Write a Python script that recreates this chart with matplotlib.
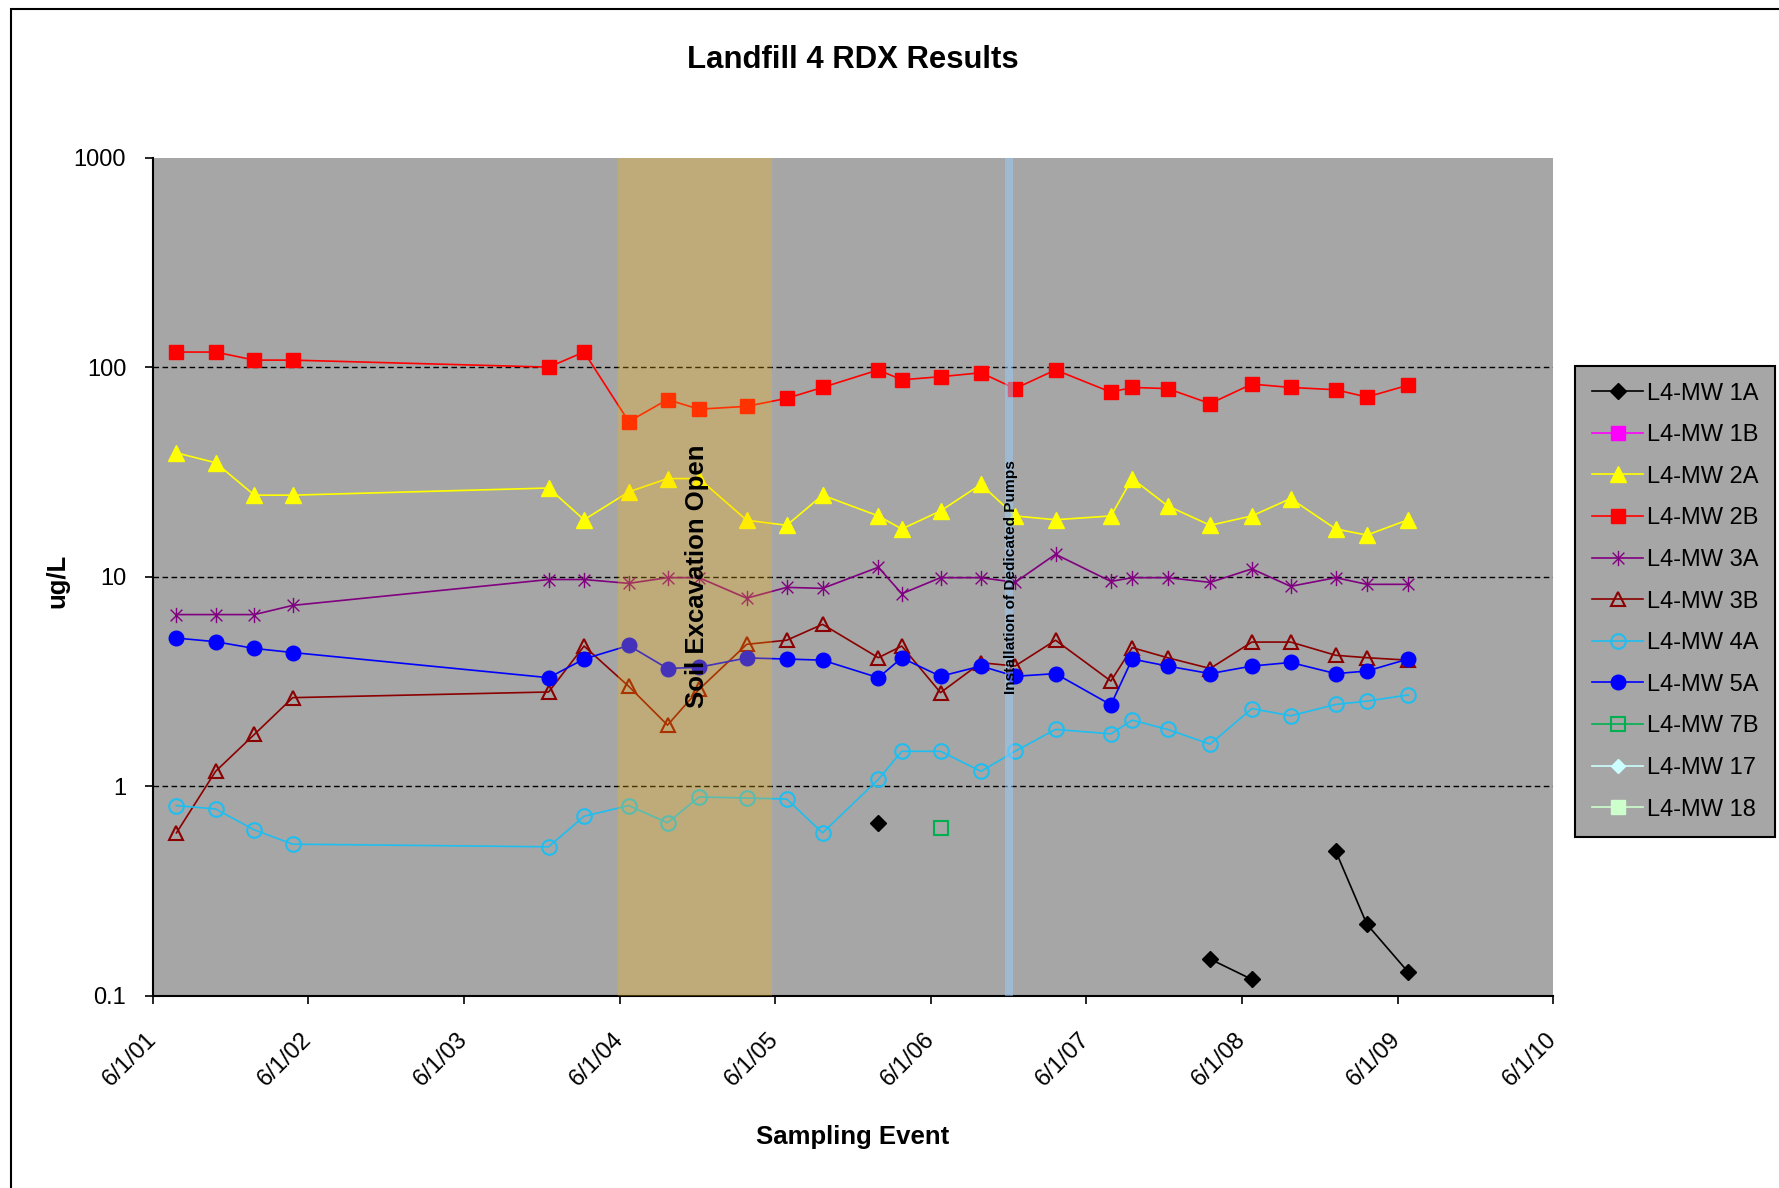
import numpy as np
import pandas as pd
import matplotlib
matplotlib.use("Agg")
import matplotlib.pyplot as plt
import matplotlib.dates as mdates
from matplotlib.path import Path
from matplotlib.patches import Rectangle
from matplotlib.ticker import FixedLocator, FuncFormatter, NullLocator

plt.rcParams['font.family'] = ['Liberation Sans', 'DejaVu Sans']

# sampling events
dates = ['2001-07-26', '2001-10-26', '2002-01-25', '2002-04-25', '2003-12-17',
         '2004-03-09', '2004-06-22', '2004-09-21', '2004-12-04', '2005-03-26',
         '2005-06-28', '2005-09-20', '2006-01-29', '2006-03-25', '2006-06-24',
         '2006-09-27', '2006-12-16', '2007-03-21', '2007-07-29', '2007-09-17',
         '2007-12-09', '2008-03-18', '2008-06-24', '2008-09-23', '2009-01-07',
         '2009-03-21', '2009-06-26']

# RDX results, ug/L (None = not detected / not sampled)
mw1a = [None, None, None, None, None, None, None, None, None, None, None, None, 0.67, None,
        None, None, None, None, None, None, None, 0.15, 0.12, None, 0.49, 0.22, 0.13]
mw1b = [None] * 27
mw2a = [39, 35, 24.5, 24.5, 26.5, 18.7, 25.4, 29.4, 29.4, 18.6, 17.6, 24.5, 19.5, 16.9,
        20.6, 27.6, 19.5, 18.7, 19.5, 29.4, 21.8, 17.6, 19.5, 23.6, 16.9, 15.8, 18.7]
mw2b = [118, 118, 108, 108, 100, 118, 55, 70, 63, 65, 71, 80, 97, 87,
        90, 94, 79, 97, 76, 80, 79, 67, 83, 80, 78, 72, 82]
mw3a = [6.6, 6.6, 6.6, 7.3, 9.7, 9.7, 9.3, 9.9, 9.9, 7.9, 8.9, 8.8, 11.1, 8.3,
        9.9, 9.9, 9.4, 12.8, 9.5, 9.9, 9.9, 9.4, 10.9, 9.0, 9.9, 9.2, 9.2]
mw3b = [0.6, 1.18, 1.77, 2.65, 2.82, 4.67, 3.0, 1.96, 2.9, 4.76, 4.98, 5.93, 4.11, 4.67,
        2.8, 3.89, 3.75, 4.98, 3.18, 4.59, 4.11, 3.65, 4.88, 4.88, 4.22, 4.11, 4.0]
mw4a = [0.81, 0.78, 0.62, 0.53, 0.515, 0.72, 0.81, 0.67, 0.89, 0.88, 0.87, 0.60, 1.08, 1.47,
        1.47, 1.18, 1.47, 1.87, 1.78, 2.07, 1.87, 1.59, 2.35, 2.17, 2.46, 2.55, 2.73]
mw5a = [5.1, 4.9, 4.55, 4.35, 3.3, 4.05, 4.7, 3.65, 3.7, 4.1, 4.05, 4.0, 3.3, 4.1,
        3.35, 3.75, 3.35, 3.45, 2.45, 4.05, 3.75, 3.45, 3.75, 3.9, 3.45, 3.55, 4.05]
mw7b = [None] * 14 + [0.635] + [None] * 12
mw17 = [None] * 27
mw18 = [None] * 27

labels = ['L4-MW 1A', 'L4-MW 1B', 'L4-MW 2A', 'L4-MW 2B', 'L4-MW 3A', 'L4-MW 3B',
          'L4-MW 4A', 'L4-MW 5A', 'L4-MW 7B', 'L4-MW 17', 'L4-MW 18']

excavation = ('2004-05-27', '2005-05-25')
pumps = ('2006-11-22', '2006-12-10')

x = pd.to_datetime(dates)

# Excel style asterisk marker: an X with a vertical bar
star = Path([(-1, -1), (1, 1), (-1, 1), (1, -1), (0, -1.3), (0, 1.3)],
            [Path.MOVETO, Path.LINETO] * 3)

styles = [
    (mw1a, dict(color='black', marker='D', ms=8)),
    (mw1b, dict(color='#FF00FF', marker='s', ms=10)),
    (mw2a, dict(color='#FFFF00', marker='^', ms=11)),
    (mw2b, dict(color='#FF0000', marker='s', ms=10.5)),
    (mw3a, dict(color='#800080', marker=star, ms=11, mfc='none')),
    (mw3b, dict(color='#8B0000', marker='^', ms=10, mfc='none', mew=1.5)),
    (mw4a, dict(color='#1EBEF0', marker='o', ms=10.5, mfc='none', mew=1.5)),
    (mw5a, dict(color='#0000FF', marker='o', ms=10.5)),
    (mw7b, dict(color='#00B050', marker='s', ms=9.5, mfc='none', mew=1.5)),
    (mw17, dict(color='#CCFFFF', marker='D', ms=7)),
    (mw18, dict(color='#CCFFCC', marker='s', ms=10)),
]

fig = plt.figure(figsize=(17.79, 11.88), dpi=100)
ax = fig.add_axes([153 / 1779, 1 - 996 / 1188, 1400 / 1779, 838.5 / 1188])
ax.set_facecolor('#A6A6A6')

for v in [1, 10, 100]:
    ax.axhline(v, color='black', ls=(0, (4, 2.5)), lw=1.0, zorder=1)

handles = []
for (vals, kw), lab in zip(styles, labels):
    y = np.array(vals, dtype=float)
    h, = ax.plot(x, y, lw=1.2, label=lab, zorder=3, **kw)
    handles.append(h)

# excavation period and pump installation bands
ax.axvspan(pd.Timestamp(excavation[0]), pd.Timestamp(excavation[1]),
           color='#FFB900', alpha=0.27, lw=0, zorder=4)
ax.axvspan(pd.Timestamp(pumps[0]), pd.Timestamp(pumps[1]),
           color='#99CCFF', alpha=0.5, lw=0, zorder=4)

ax.text(pd.Timestamp('2004-11-29'), 10, 'Soil Excavation Open', rotation=90,
        ha='center', va='center', fontsize=18.5, fontweight='bold', zorder=5)
ax.text(pd.Timestamp('2006-12-06'), 10, 'Installation of Dedicated Pumps', rotation=90,
        ha='center', va='center', fontsize=11.1, fontweight='bold', zorder=5)

ax.set_yscale('log')
ax.set_ylim(0.1, 1000)
ax.yaxis.set_major_locator(FixedLocator([0.1, 1, 10, 100, 1000]))
ax.yaxis.set_major_formatter(FuncFormatter(lambda v, _: f'{v:g}'))
ax.yaxis.set_minor_locator(NullLocator())

ax.set_xlim(pd.Timestamp('2001-06-01'), pd.Timestamp('2010-06-01'))
ax.xaxis.set_major_locator(mdates.MonthLocator(bymonth=6, bymonthday=1))
ax.xaxis.set_major_formatter(FuncFormatter(
    lambda v, _: '{0.month}/{0.day}/{0:%y}'.format(mdates.num2date(v))))
ax.xaxis.set_minor_locator(NullLocator())

ax.tick_params(axis='both', direction='out', length=5.8, width=1.2, labelsize=17)
ax.tick_params(axis='y', pad=13.5)
ax.tick_params(axis='x', pad=23)
for lbl in ax.get_xticklabels():
    lbl.set_rotation(45)
    lbl.set_ha('right')
    lbl.set_va('center')
    lbl.set_rotation_mode('anchor')

for side in ['top', 'right']:
    ax.spines[side].set_visible(False)
for side in ['left', 'bottom']:
    ax.spines[side].set_linewidth(1.5)

ax.set_xlabel('Sampling Event', fontsize=18.5, fontweight='bold')
ax.xaxis.set_label_coords(0.5, -(1137 - 996) / 838.5)
ax.xaxis.label.set_va('center')
ax.set_ylabel('ug/L', fontsize=18.5, fontweight='bold')
ax.yaxis.set_label_coords((57 - 153) / 1400, 0.495)
ax.yaxis.label.set_va('center')

fig.text(853 / 1779, 1 - 60 / 1188, 'Landfill 4 RDX Results', ha='center', va='center',
         fontsize=22.4, fontweight='bold')

leg = ax.legend(handles=handles, loc='upper left',
                bbox_to_anchor=(1575 / 1779, 1 - 366 / 1188), bbox_transform=fig.transFigure,
                borderaxespad=0, fancybox=False, facecolor='#A6A6A6', edgecolor='black',
                framealpha=1, fontsize=17, labelspacing=0.83, handlelength=2.2,
                handletextpad=0.15, borderpad=0.7)
leg.get_frame().set_linewidth(1.5)

# outer chart border
fig.add_artist(Rectangle((11 / 1779, -0.05), 1.2, 1.05 - 9 / 1188, transform=fig.transFigure,
                         fill=False, edgecolor='black', lw=1.5))

fig.savefig('out.png', dpi=100)
